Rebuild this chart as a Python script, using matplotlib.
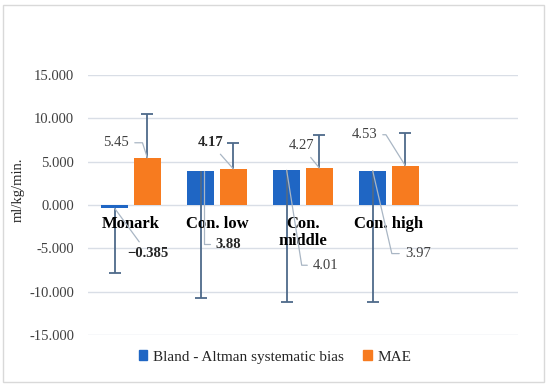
import matplotlib
matplotlib.use("Agg")
import matplotlib.pyplot as plt
from matplotlib.patches import Patch, Rectangle
import numpy as np

categories = ["Monark", "Con. low", "Con.\nmiddle", "Con. high", ""]
bias = [-0.385, 3.88, 4.01, 3.97]
bias_lower_end = [-7.9, -10.77, -11.2, -11.2]
mae = [5.45, 4.17, 4.27, 4.53]
mae_upper_end = [10.5, 7.1, 8.07, 8.27]
bias_labels = ["\u22120.385", "3.88", "4.01", "3.97"]
mae_labels = ["5.45", "4.17", "4.27", "4.53"]
bias_bold = [True, True, False, False]
mae_bold = [False, True, False, False]
yticks = [-15, -10, -5, 0, 5, 10, 15]
series_names = ["Bland - Altman systematic bias", "MAE"]

plt.rcParams['font.family'] = ['Liberation Serif', 'DejaVu Serif']

BLUE = '#1F66C4'
ORANGE = '#F77B1F'
ERR = '#4E6A8A'
LEADER = '#A9B6C4'
TXT = '#404040'

fig = plt.figure(figsize=(5.5, 3.86), dpi=100)
fig.patches.append(Rectangle((3/550, 1-382/386), 541/550, 377/386, transform=fig.transFigure,
                             fill=False, edgecolor='#D9D9D9', lw=1.0))
ax = fig.add_axes([88/550, 1-335/386, 430/550, 260/386])

x = np.arange(len(bias))
w = 0.31
off = 0.19
xb = x - off
xo = x + off

ax.bar(xb, bias, width=w, color=BLUE, zorder=2)
ax.bar(xo, mae, width=w, color=ORANGE, zorder=2)

# error bars (one-sided, Excel style)
b = np.array(bias); bl = np.array(bias_lower_end)
m = np.array(mae); mu = np.array(mae_upper_end)
ax.errorbar(xb, b, yerr=[b - bl, np.zeros_like(b)], fmt='none', ecolor=ERR, elinewidth=1.3, capsize=0, zorder=4)
ax.errorbar(xo, m, yerr=[np.zeros_like(m), mu - m], fmt='none', ecolor=ERR, elinewidth=1.3, capsize=0, zorder=4)
ax.plot(xb, bl, linestyle='none', marker='_', markersize=8, markeredgewidth=1.3, color=ERR, zorder=4)
ax.plot(xo, mu, linestyle='none', marker='_', markersize=8, markeredgewidth=1.3, color=ERR, zorder=4)

ax.set_xlim(-0.5, 4.5)
ax.set_ylim(-15, 15)
ax.set_yticks(yticks)
ax.set_yticklabels([f"{v:.3f}" for v in yticks], fontsize=10.5, color=TXT)
ax.set_xticks([])
ax.tick_params(axis='y', length=0, pad=10)
for s in ax.spines.values():
    s.set_visible(False)
ax.grid(axis='y', color='#D9DEE6', lw=1.0, zorder=0)
ax.set_axisbelow(True)

ax.set_ylabel("ml/kg/min.", fontsize=10.5, color='#262626')
ax.yaxis.set_label_coords(-0.147, 0.558)

# category labels inside plot
for i, c in enumerate(categories[:4]):
    ax.annotate(c, xy=(i, 0), xytext=(0, -11), textcoords='offset pixels', ha='center', va='top',
                fontsize=12, fontweight='bold', color='black', linespacing=1.05, zorder=5)

# data labels with leader lines
mae_offsets = [(-31, 15), (-23, 26), (-18, 22), (-41, 31)]
mae_conn = ["angle,angleA=0,angleB=-72,rad=0", "arc3", "arc3", "angle,angleA=0,angleB=-58,rad=0"]
for i in range(4):
    ax.annotate(mae_labels[i], xy=(xo[i], mae[i]), xytext=mae_offsets[i], textcoords='offset pixels',
                ha='center', va='center', fontsize=10.5,
                fontweight='bold' if mae_bold[i] else 'normal',
                color='#262626' if mae_bold[i] else TXT,
                arrowprops=dict(arrowstyle='-', color=LEADER, lw=0.9, shrinkA=2, shrinkB=0,
                                connectionstyle=mae_conn[i]), zorder=5)

bias_offsets = [(33, -45), (24, -73), (39, -95), (45, -83)]
bias_xshift = [0, 0.04, 0, 0]
bias_conn = ["arc3", "angle,angleA=0,angleB=90,rad=0", "angle,angleA=0,angleB=99,rad=0",
             "angle,angleA=0,angleB=103,rad=0"]
for i in range(4):
    ax.annotate(bias_labels[i], xy=(xb[i] + bias_xshift[i], bias[i]), xytext=bias_offsets[i],
                textcoords='offset pixels', ha='center', va='center', fontsize=10.5,
                fontweight='bold' if bias_bold[i] else 'normal',
                color='#262626' if bias_bold[i] else TXT,
                arrowprops=dict(arrowstyle='-', color=LEADER, lw=0.9, shrinkA=2, shrinkB=0,
                                connectionstyle=bias_conn[i]), zorder=5)

handles = [Patch(color=BLUE, label=series_names[0]), Patch(color=ORANGE, label=series_names[1])]
fig.legend(handles=handles, loc='center', bbox_to_anchor=(0.5, 1-357/386), ncol=2, frameon=False,
           fontsize=11, handlelength=0.55, handleheight=0.55, handletextpad=0.35, columnspacing=1.3,
           labelcolor='#262626')

fig.savefig("out.png", dpi=100)
